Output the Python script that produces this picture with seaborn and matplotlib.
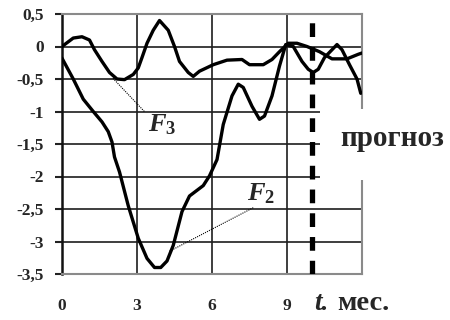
import matplotlib
matplotlib.use("Agg")
import matplotlib.pyplot as plt
import seaborn as sns
import numpy as np
import pandas as pd
from matplotlib.patches import Rectangle

# ---- data ----
t_f3 = [0, 0.45, 0.8, 1.1, 1.3, 1.6, 1.9, 2.2, 2.5, 2.85, 3.05, 3.2, 3.4, 3.65, 3.9,
        4.25, 4.5, 4.7, 5.05, 5.25, 5.5, 6.05, 6.6, 7.2, 7.5, 8.05, 8.4, 8.7, 9.05,
        9.4, 9.8, 10.3, 10.8, 11.4, 11.85, 12]
f3 = [0, 0.13, 0.15, 0.1, -0.05, -0.23, -0.4, -0.5, -0.51, -0.43, -0.33, -0.17, 0.05,
      0.25, 0.4, 0.25, 0, -0.23, -0.4, -0.46, -0.38, -0.28, -0.21, -0.2, -0.28, -0.28,
      -0.2, -0.08, 0.05, 0.05, 0, -0.08, -0.19, -0.19, -0.12, -0.1]

t_f2 = [0, 0.45, 0.85, 1.25, 1.6, 1.85, 2.0, 2.1, 2.3, 2.65, 3.05, 3.4, 3.7, 3.95, 4.2,
        4.45, 4.8, 5.1, 5.65, 5.9, 6.2, 6.45, 6.8, 7.05, 7.25, 7.6, 7.9, 8.1, 8.4, 8.7,
        8.95, 9.25, 9.6, 9.85, 10.05, 10.25, 10.5, 10.8, 11.0, 11.2, 11.5, 11.8, 11.95]
f2 = [-0.18, -0.5, -0.81, -1.0, -1.16, -1.31, -1.47, -1.7, -1.93, -2.45, -2.95, -3.26,
      -3.4, -3.4, -3.3, -3.06, -2.54, -2.3, -2.14, -1.99, -1.74, -1.2, -0.76, -0.58,
      -0.63, -0.92, -1.12, -1.07, -0.76, -0.3, 0.03, 0, -0.23, -0.35, -0.4, -0.35,
      -0.17, -0.05, 0.03, -0.05, -0.28, -0.5, -0.72]

forecast_t = 10
x_ticks = [0, 3, 6, 9]
x_tick_labels = ["0", "3", "6", "9"]
y_ticks = [0.5, 0, -0.5, -1, -1.5, -2, -2.5, -3, -3.5]
y_tick_labels = ["0,5", "0", "-0,5", "-1", "-1,5", "-2", "-2,5", "-3", "-3,5"]
forecast_label = "прогноз"
x_unit_label = "мес."

# ---- style ----
sns.set_style("white")
plt.rcParams["font.family"] = ["Liberation Serif", "DejaVu Serif"]
plt.rcParams["mathtext.fontset"] = "custom"
plt.rcParams["mathtext.it"] = "Liberation Serif:italic:bold"
plt.rcParams["mathtext.rm"] = "Liberation Serif:bold"
plt.rcParams["mathtext.bf"] = "Liberation Serif:bold"

fig = plt.figure(figsize=(4.5, 3.2), dpi=100)
ax = fig.add_axes([62 / 450, 46 / 320, 300 / 450, 260 / 320])

df3 = pd.DataFrame({"t": t_f3, "v": f3})
df2 = pd.DataFrame({"t": t_f2, "v": f2})
sns.lineplot(data=df3, x="t", y="v", ax=ax, color="black", lw=2.4, sort=False, zorder=4)
sns.lineplot(data=df2, x="t", y="v", ax=ax, color="black", lw=2.4, sort=False, zorder=4)
for ln in ax.get_lines():
    ln.set_solid_joinstyle("round")
    ln.set_solid_capstyle("round")

ax.set_xlim(0, 12)
ax.set_ylim(-3.5, 0.5)
ax.set_xlabel("")
ax.set_ylabel("")

# grid
ax.set_xticks(x_ticks)
ax.set_xticklabels(x_tick_labels)
ax.set_yticks(y_ticks)
ax.set_yticklabels(y_tick_labels)
ax.grid(True, color="#1e1e1e", lw=1.2)
ax.set_axisbelow(True)

for side in ["top", "right", "bottom"]:
    ax.spines[side].set_visible(True)
    ax.spines[side].set_color("#8a8a8a")
    ax.spines[side].set_linewidth(1.5)
ax.spines["left"].set_color("#111111")
ax.spines["left"].set_linewidth(1.8)

ax.tick_params(axis="y", which="both", direction="out", length=5, width=1.5,
               color="#222222", pad=8, left=True, labelsize=12.5)
ax.tick_params(axis="x", length=0, pad=17, labelsize=12.5)
for lab in ax.get_yticklabels() + ax.get_xticklabels():
    lab.set_fontweight("bold")

# forecast line
ax.axvline(forecast_t, color="black", lw=3.8, ls=(0, (2.6, 1.9)), zorder=5)

# white area behind the forecast label
ax.add_patch(Rectangle((10.32, -2.05), 6, 1.085, facecolor="white", edgecolor="none",
                       zorder=2.7, clip_on=False))
ax.text(11.12, -1.53, forecast_label, fontsize=21, fontweight="bold", ha="left",
        va="baseline", zorder=6, clip_on=False)

# x axis unit label
ax.text(10.1, -3.96, "t.", fontsize=19.5, fontweight="bold", fontstyle="italic",
        ha="left", va="center", clip_on=False)
ax.text(11.0, -3.96, x_unit_label, fontsize=20.5, fontweight="bold",
        ha="left", va="center", clip_on=False)

# curve labels with leader lines
ax.plot([2.04, 3.32], [-0.49, -1.01], color="black", lw=0.8, ls=(0, (1, 1)), zorder=3)
ax.text(3.42, -1.31, r"$F_3$", fontsize=19, ha="left", va="baseline", zorder=6)
ax.plot([4.3, 7.65], [-3.15, -2.48], color="black", lw=0.8, ls=(0, (1, 1)), zorder=3)
ax.text(7.4, -2.37, r"$F_2$", fontsize=19, ha="left", va="baseline", zorder=6)

fig.savefig("out.png", dpi=100)
